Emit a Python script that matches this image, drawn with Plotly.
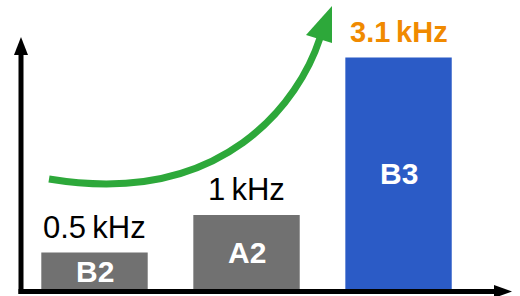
import plotly.graph_objects as go

# ---- data ----
categories = ["B2", "A2", "B3"]
values_khz = [0.5, 1.0, 3.1]
value_labels = ["0.5\u2009kHz", "1\u2009kHz", "3.1\u2009kHz"]
bar_colors = ["#717171", "#717171", "#2B5BC6"]
label_colors = ["#000000", "#000000", "#F08A00"]
label_bold = [False, False, True]

W, H = 520, 296
FONT = "Liberation Sans, Arial, sans-serif"


def p(x, y):
    """pixel -> paper coordinates (margins are zero)"""
    return x / W, 1 - y / H


def path(points, close=False):
    s = ""
    for i, (x, y) in enumerate(points):
        px, py = p(x, y)
        s += ("M" if i == 0 else "L") + f"{px:.5f},{py:.5f} "
    return s + ("Z" if close else "")


def cubic(p0, p1, p2, p3):
    pts = [p(*q) for q in (p0, p1, p2, p3)]
    return (f"M{pts[0][0]:.5f},{pts[0][1]:.5f} C{pts[1][0]:.5f},{pts[1][1]:.5f} "
            f"{pts[2][0]:.5f},{pts[2][1]:.5f} {pts[3][0]:.5f},{pts[3][1]:.5f}")


fig = go.Figure()
fig.add_trace(go.Bar(
    x=categories, y=values_khz, width=0.70,
    marker=dict(color=bar_colors, line=dict(width=0)),
    hoverinfo="skip",
))

annotations = []
for c, v, lab, col, b in zip(categories, values_khz, value_labels, label_colors, label_bold):
    annotations.append(dict(
        x=c, y=v, xref="x", yref="y", yanchor="bottom", yshift=8 if b else 6,
        text=f"<b>{lab}</b>" if b else lab, showarrow=False,
        font=dict(family=FONT, size=29 if b else 31, color=col),
    ))
    annotations.append(dict(
        x=c, y=v / 2, xref="x", yref="y", yanchor="middle",
        text=f"<b>{c}</b>", showarrow=False,
        font=dict(family=FONT, size=30, color="white"),
    ))

shapes = [
    # axes
    dict(type="line", xref="paper", yref="paper",
         x0=p(21, 294)[0], y0=p(21, 294)[1], x1=p(21, 52)[0], y1=p(21, 52)[1],
         line=dict(color="black", width=5)),
    dict(type="line", xref="paper", yref="paper",
         x0=p(18.5, 291.5)[0], y0=p(18.5, 291.5)[1], x1=p(497, 291.5)[0], y1=p(497, 291.5)[1],
         line=dict(color="black", width=5)),
    dict(type="path", xref="paper", yref="paper",
         path=path([(21, 37), (14, 55), (28, 55)], close=True),
         fillcolor="black", line=dict(width=0)),
    dict(type="path", xref="paper", yref="paper",
         path=path([(512, 291.5), (494, 285), (494, 298)], close=True),
         fillcolor="black", line=dict(width=0)),
    # green growth arrow
    dict(type="path", xref="paper", yref="paper",
         path=cubic((49, 179), (225, 208), (300, 100), (320, 38)),
         line=dict(color="#2DA83A", width=7)),
    dict(type="path", xref="paper", yref="paper",
         path=path([(332, 6), (306, 35), (332, 43)], close=True),
         fillcolor="#2DA83A", line=dict(width=0)),
]

fig.update_layout(
    width=W, height=H,
    margin=dict(l=0, r=0, t=0, b=0),
    paper_bgcolor="white", plot_bgcolor="white",
    showlegend=False,
    xaxis=dict(range=[-0.6217, 2.799], visible=False, fixedrange=True),
    yaxis=dict(range=[-0.08, 3.8667], visible=False, fixedrange=True),
    annotations=annotations,
    shapes=shapes,
    font=dict(family=FONT),
)

fig.write_html(
    "out.html",
    config={"displayModeBar": False},
    post_script="document.body.style.margin='0';document.body.style.overflow='hidden';",
)
